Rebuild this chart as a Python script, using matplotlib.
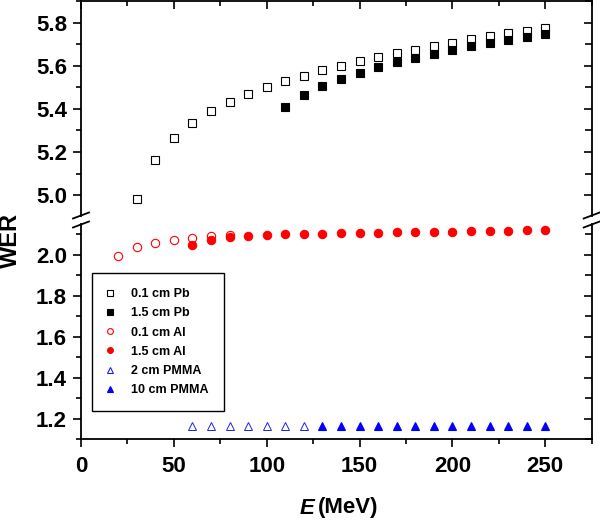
import matplotlib
matplotlib.use("Agg")
import matplotlib.pyplot as plt
from matplotlib.lines import Line2D
from matplotlib.ticker import MultipleLocator

plt.rcParams['font.family'] = ['Liberation Sans', 'DejaVu Sans']
plt.rcParams['font.weight'] = 'bold'

# ---- data ----
e_pb_thin = [30, 40, 50, 60, 70, 80, 90, 100, 110, 120, 130, 140, 150, 160, 170, 180, 190, 200, 210, 220, 230, 240, 250]
wer_pb_thin = [4.98, 5.162, 5.266, 5.335, 5.389, 5.432, 5.468, 5.50, 5.528, 5.554, 5.579, 5.599, 5.621, 5.639, 5.658,
               5.675, 5.692, 5.707, 5.723, 5.737, 5.750, 5.763, 5.774]
e_pb_thick = [110, 120, 130, 140, 150, 160, 170, 180, 190, 200, 210, 220, 230, 240, 250]
wer_pb_thick = [5.409, 5.465, 5.505, 5.537, 5.568, 5.593, 5.616, 5.636, 5.655, 5.673, 5.690, 5.706, 5.721, 5.735, 5.747]
e_al_thin = [20, 30, 40, 50, 60, 70, 80]
wer_al_thin = [1.995, 2.038, 2.056, 2.069, 2.079, 2.089, 2.093]
e_al_thick = [60, 70, 80, 90, 100, 110, 120, 130, 140, 150, 160, 170, 180, 190, 200, 210, 220, 230, 240, 250]
wer_al_thick = [2.046, 2.072, 2.084, 2.090, 2.095, 2.099, 2.100, 2.102, 2.104, 2.105, 2.107, 2.108, 2.110, 2.111,
                2.112, 2.114, 2.115, 2.116, 2.118, 2.119]
e_pmma_thin = [60, 70, 80, 90, 100, 110, 120]
wer_pmma_thin = [1.162, 1.162, 1.162, 1.162, 1.162, 1.162, 1.162]
e_pmma_thick = [130, 140, 150, 160, 170, 180, 190, 200, 210, 220, 230, 240, 250]
wer_pmma_thick = [1.162] * 13
labels = ['0.1 cm Pb', '1.5 cm Pb', '0.1 cm Al', '1.5 cm Al', '2 cm PMMA', '10 cm PMMA']

W, H = 600, 527
fig = plt.figure(figsize=(6.0, 5.27), dpi=100)
L, R = 81 / W, 591.7 / W
ax_top = fig.add_axes([L, 1 - 216 / H, R - L, (216 - 1) / H])
ax_bot = fig.add_axes([L, 1 - 439 / H, R - L, (439 - 224) / H])

ms_sq, ms_c, ms_t = 5.5, 6.0, 6.2
# upper panel
ax_top.plot(e_pb_thin, wer_pb_thin, ls='none', marker='s', ms=ms_sq, mfc='none', mec='black', mew=0.8)
ax_top.plot(e_pb_thick, wer_pb_thick, ls='none', marker='s', ms=ms_sq, mfc='black', mec='black', mew=0.8)
# lower panel
ax_bot.plot(e_al_thin, wer_al_thin, ls='none', marker='o', ms=ms_c, mfc='none', mec='#ff0000', mew=0.8)
ax_bot.plot(e_al_thick, wer_al_thick, ls='none', marker='o', ms=ms_c, mfc='#ff0000', mec='#ff0000', mew=0.8)
ax_bot.plot(e_pmma_thin, wer_pmma_thin, ls='none', marker='^', ms=ms_t, mfc='none', mec='#2020ee', mew=0.7)
ax_bot.plot(e_pmma_thick, wer_pmma_thick, ls='none', marker='^', ms=ms_t, mfc='#0000ff', mec='#0000ff', mew=0.8)

for ax in (ax_top, ax_bot):
    ax.set_xlim(0, 275)
    ax.xaxis.set_major_locator(MultipleLocator(50))
    ax.xaxis.set_minor_locator(MultipleLocator(25))
    ax.yaxis.set_major_locator(MultipleLocator(0.2))
    ax.yaxis.set_minor_locator(MultipleLocator(0.1))
    for s in ax.spines.values():
        s.set_linewidth(1.3)
    ax.tick_params(which='both', width=1.2, labelsize=16)
    ax.tick_params(which='major', length=6)
    ax.tick_params(which='minor', length=3.6)
    ax.tick_params(axis='y', which='both', left=True, right=False, direction='out', pad=4)
    for lab in ax.get_yticklabels() + ax.get_xticklabels():
        lab.set_fontweight('bold')

ax_top.set_ylim(4.903, 5.9)
ax_bot.set_ylim(1.1, 2.149)

# secondary axes for inward ticks on right/top
for ax in (ax_top, ax_bot):
    axr = ax.twinx()
    axr.set_ylim(ax.get_ylim())
    axr.yaxis.set_major_locator(MultipleLocator(0.2))
    axr.yaxis.set_minor_locator(MultipleLocator(0.1))
    axr.tick_params(axis='y', which='both', direction='in', width=1.2, labelright=False)
    axr.tick_params(axis='y', which='major', length=6)
    axr.tick_params(axis='y', which='minor', length=5)
    for s in axr.spines.values():
        s.set_visible(False)

ax_top.spines['bottom'].set_visible(False)
ax_top.tick_params(axis='x', which='both', bottom=False, labelbottom=False, top=True, direction='in')
ax_bot.spines['top'].set_visible(False)
ax_bot.tick_params(axis='x', which='both', top=False, bottom=True, direction='out', pad=6)

# break marks
for xpx in (81, 591.7):
    for ypx in (215.5, 224.5):
        fig.add_artist(Line2D([(xpx - 8) / W, (xpx + 8) / W], [1 - (ypx + 3) / H, 1 - (ypx - 3) / H],
                              color='black', lw=1.3, transform=fig.transFigure))

# legend
handles = [
    Line2D([], [], ls='none', marker='s', ms=ms_sq, mfc='none', mec='black', mew=0.8),
    Line2D([], [], ls='none', marker='s', ms=ms_sq, mfc='black', mec='black', mew=0.8),
    Line2D([], [], ls='none', marker='o', ms=ms_c, mfc='none', mec='#ff0000', mew=0.8),
    Line2D([], [], ls='none', marker='o', ms=ms_c, mfc='#ff0000', mec='#ff0000', mew=0.8),
    Line2D([], [], ls='none', marker='^', ms=ms_t, mfc='none', mec='#2020ee', mew=0.8),
    Line2D([], [], ls='none', marker='^', ms=ms_t, mfc='#0000ff', mec='#0000ff', mew=0.8),
]
leg = ax_bot.legend(handles, labels, loc='upper left', bbox_to_anchor=((92 - 81) / 510.7, (439 - 273) / 215),
                    borderaxespad=0, fancybox=False, edgecolor='black', framealpha=1,
                    prop={'family': 'Liberation Sans', 'weight': 'bold', 'size': 9},
                    markerscale=0.7, borderpad=1.2, handlelength=0.5, handletextpad=1.45, labelspacing=0.58)
leg.get_frame().set_linewidth(1.0)

# axis labels
fig.text(10.5 / W, 1 - 241 / H, 'WER', rotation=90, ha='center', va='center', fontsize=17, fontweight='bold')
tE = fig.text(314 / W, 1 - 508 / H, 'E', ha='right', va='center', fontsize=16, fontweight='bold', style='italic')
ax_bot.annotate('(MeV)', xy=(1, 0.5), xycoords=tE, xytext=(3, 0), textcoords='offset points',
                ha='left', va='center', fontsize=16, fontweight='bold', annotation_clip=False)

fig.savefig('out.png', dpi=100)
